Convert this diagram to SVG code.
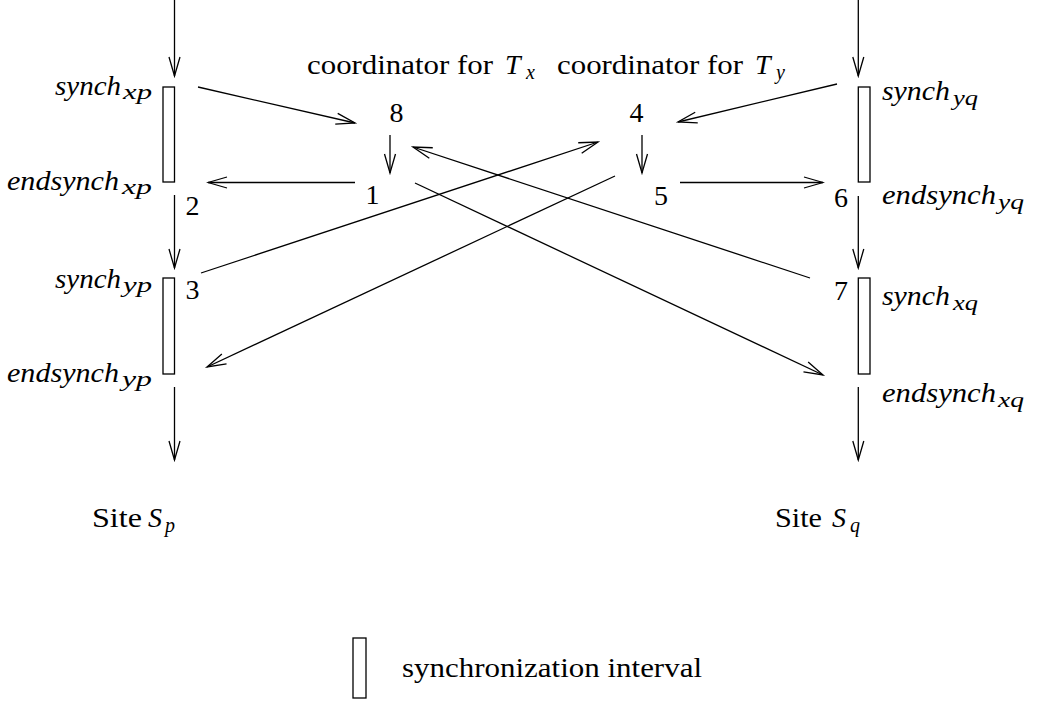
<svg xmlns="http://www.w3.org/2000/svg" width="1040" height="703" viewBox="0 0 1040 703">
<defs>
<marker id="ah" markerUnits="userSpaceOnUse" markerWidth="22" markerHeight="14" viewBox="0 0 22 14" refX="20" refY="7" orient="auto">
<path d="M1,1.5 L20,7 L1,12.5" fill="none" stroke="#000" stroke-width="1.3"/>
</marker>
</defs>
<style>
.ar{stroke:#000;stroke-width:1.3;fill:none;marker-end:url(#ah)}
.bx{stroke:#000;stroke-width:1.3;fill:#fff}
.rm{font-size:28px;fill:#000}
.it{font-size:28px;font-style:italic;fill:#000}
.sb{font-size:20px;font-style:italic;fill:#000}
.dg{font-size:28px;text-anchor:middle;fill:#000}
</style>
<rect width="1040" height="703" fill="#fff"/>

<g id="connectors">
<line class="ar" x1="174.5" y1="0" x2="174.5" y2="76"/>
<line class="ar" x1="174.5" y1="195" x2="174.5" y2="268"/>
<line class="ar" x1="174.5" y1="387" x2="174.5" y2="460"/>
<line class="ar" x1="858.3" y1="0" x2="858.3" y2="76"/>
<line class="ar" x1="858.3" y1="196" x2="858.3" y2="268"/>
<line class="ar" x1="858.3" y1="387" x2="858.3" y2="460"/>
<line class="ar" x1="198" y1="87" x2="355" y2="123"/>
<line class="ar" x1="837" y1="84" x2="678" y2="122"/>
<line class="ar" x1="390" y1="135" x2="390" y2="173"/>
<line class="ar" x1="642" y1="135" x2="642" y2="173"/>
<line class="ar" x1="355" y1="182.5" x2="208" y2="182.5"/>
<line class="ar" x1="680" y1="182.5" x2="823" y2="182.5"/>
<line class="ar" x1="810" y1="278" x2="413" y2="147"/>
<line class="ar" x1="201" y1="273" x2="598" y2="142"/>
<line class="ar" x1="415" y1="183" x2="823" y2="375"/>
<line class="ar" x1="615" y1="176" x2="207" y2="367"/>
</g>

<g id="site-p" font-family="Liberation Serif, Times New Roman, Times, DejaVu Serif, serif">
<rect class="bx" x="163" y="87" width="11.5" height="95"/>
<rect class="bx" x="163" y="278" width="11.5" height="96"/>
<text class="it" x="55" y="95" textLength="66" lengthAdjust="spacingAndGlyphs">synch</text>
<text class="sb" x="123" y="99" textLength="29" lengthAdjust="spacingAndGlyphs">xp</text>
<text class="it" x="7" y="190" textLength="112" lengthAdjust="spacingAndGlyphs">endsynch</text>
<text class="sb" x="122" y="194" textLength="30" lengthAdjust="spacingAndGlyphs">xp</text>
<text class="it" x="55" y="288" textLength="66" lengthAdjust="spacingAndGlyphs">synch</text>
<text class="sb" x="123" y="292" textLength="29" lengthAdjust="spacingAndGlyphs">yp</text>
<text class="it" x="7" y="382" textLength="112" lengthAdjust="spacingAndGlyphs">endsynch</text>
<text class="sb" x="122" y="386" textLength="30" lengthAdjust="spacingAndGlyphs">yp</text>
<text class="dg" x="192.5" y="215">2</text>
<text class="dg" x="192.5" y="299">3</text>
<text class="rm" x="92" y="527" textLength="50" lengthAdjust="spacingAndGlyphs">Site</text>
<text class="it" x="148" y="527">S</text>
<text class="sb" x="165" y="532">p</text>
</g>

<g id="site-q" font-family="Liberation Serif, Times New Roman, Times, DejaVu Serif, serif">
<rect class="bx" x="858.3" y="87" width="11.7" height="95"/>
<rect class="bx" x="858.3" y="278" width="11.7" height="96"/>
<text class="it" x="882" y="100" textLength="68" lengthAdjust="spacingAndGlyphs">synch</text>
<text class="sb" x="953" y="105" textLength="25" lengthAdjust="spacingAndGlyphs">yq</text>
<text class="it" x="882" y="204" textLength="114" lengthAdjust="spacingAndGlyphs">endsynch</text>
<text class="sb" x="998" y="209" textLength="26" lengthAdjust="spacingAndGlyphs">yq</text>
<text class="it" x="882" y="305" textLength="68" lengthAdjust="spacingAndGlyphs">synch</text>
<text class="sb" x="953" y="310" textLength="25" lengthAdjust="spacingAndGlyphs">xq</text>
<text class="it" x="882" y="402" textLength="114" lengthAdjust="spacingAndGlyphs">endsynch</text>
<text class="sb" x="998" y="407" textLength="26" lengthAdjust="spacingAndGlyphs">xq</text>
<text class="dg" x="841" y="207">6</text>
<text class="dg" x="841" y="300">7</text>
<text class="rm" x="775" y="527" textLength="47" lengthAdjust="spacingAndGlyphs">Site</text>
<text class="it" x="832" y="527">S</text>
<text class="sb" x="850" y="532">q</text>
</g>

<g id="coordinator-x" font-family="Liberation Serif, Times New Roman, Times, DejaVu Serif, serif">
<text class="rm" x="307" y="74" textLength="186" lengthAdjust="spacingAndGlyphs">coordinator for</text>
<text class="it" x="505" y="74">T</text>
<text class="sb" x="526" y="79">x</text>
<text class="dg" x="396.5" y="122">8</text>
<text class="dg" x="372.5" y="204">1</text>
</g>

<g id="coordinator-y" font-family="Liberation Serif, Times New Roman, Times, DejaVu Serif, serif">
<text class="rm" x="557" y="74" textLength="186" lengthAdjust="spacingAndGlyphs">coordinator for</text>
<text class="it" x="755" y="74">T</text>
<text class="sb" x="776" y="79">y</text>
<text class="dg" x="636.5" y="122">4</text>
<text class="dg" x="661" y="205">5</text>
</g>

<g id="legend" font-family="Liberation Serif, Times New Roman, Times, DejaVu Serif, serif">
<rect class="bx" x="353" y="638" width="13" height="60"/>
<text class="rm" x="402" y="677" textLength="300" lengthAdjust="spacingAndGlyphs">synchronization interval</text>
</g>
</svg>
